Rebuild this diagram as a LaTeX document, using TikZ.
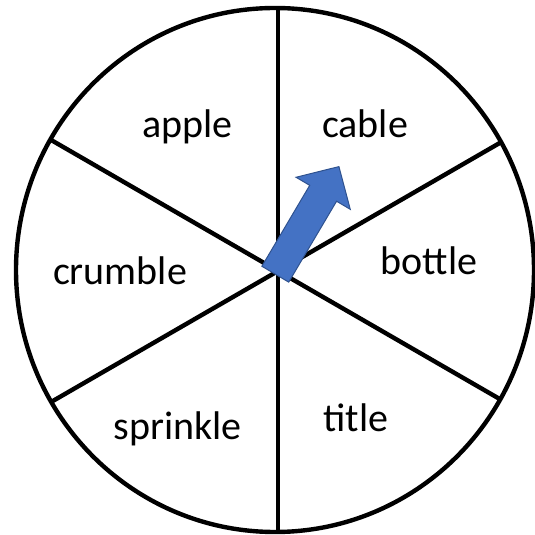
\documentclass[tikz,border=0pt]{standalone}
\usepackage{fontspec}
\setmainfont{Carlito}
\begin{document}
\begin{tikzpicture}[x=1pt,y=1pt,
  lbl/.style={anchor=base,font=\fontsize{40}{48}\selectfont,inner sep=0pt},
  divider/.style={line width=4.4pt,black},
  rim/.style={line width=4.4pt,black},
  pointer/.style={fill={rgb,255:red,68;green,114;blue,196},draw={rgb,255:red,47;green,82;blue,143},line width=1pt,line join=miter}]
\useasboundingbox (0,0) rectangle (535,535);
\coordinate (c) at (275,265);
\coordinate (hub) at (278,264);
\begin{scope}
  \clip (c) ellipse [x radius=259, y radius=262];
  \foreach \a in {30,90,150,210,270,330}
    \draw[divider] (hub) -- ++(\a:400);
\end{scope}
\draw[rim] (c) ellipse [x radius=259, y radius=262];
\node[lbl] (apple) at (187.5,397) {apple};
\node[lbl] (cable) at (365,397) {cable};
\node[lbl] (crumble) at (120,250) {crumble};
\node[lbl] (bottle) at (429,260) {bottle};
\node[lbl] (sprinkle) at (177.5,95) {sprinkle};
\node[lbl] (title) at (356,103.3) {title};
\begin{scope}[shift={(275.3,260.8)},rotate=59.4]
  \draw[pointer] (0,-15.6) -- (94,-15.6) -- (94,-31.5) -- (125,0) -- (94,31.5) -- (94,15.6) -- (0,15.6) -- cycle;
\end{scope}
\end{tikzpicture}
\end{document}
